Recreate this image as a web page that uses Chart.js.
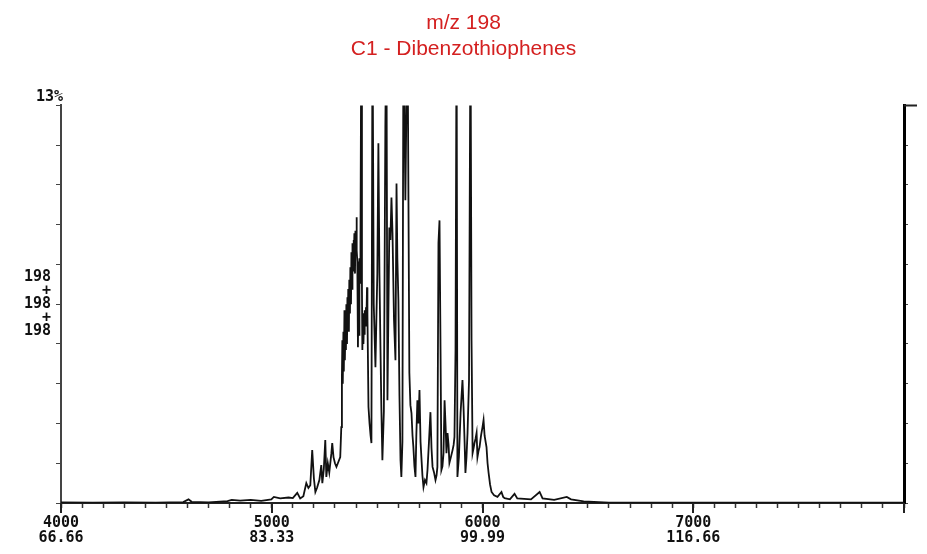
<!DOCTYPE html>
<html>
<head>
<meta charset="utf-8">
<script src="https://cdn.jsdelivr.net/npm/chart.js@4.4.1/dist/chart.umd.min.js"></script>
<style>
  html, body { margin: 0; padding: 0; background: #fff; }
  #wrap { width: 927px; height: 554px; }
</style>
</head>
<body>
<div id="wrap"><canvas id="ticChart"></canvas></div>
<script>
// scan numbers
const scans = [
    4000, 4150, 4300, 4450, 4580, 4605, 4620, 4700, 4790, 4810,
    4850, 4900, 4950, 4998, 5010, 5040, 5080, 5100, 5121, 5135,
    5150, 5164, 5174, 5183, 5192, 5200, 5207, 5215, 5226, 5235,
    5240, 5247, 5254, 5259, 5266, 5273, 5283, 5287, 5293, 5300,
    5307, 5316, 5325, 5330, 5333, 5335, 5337, 5340, 5342, 5345,
    5347, 5350, 5352, 5354, 5357, 5359, 5361, 5363, 5366, 5368,
    5371, 5373, 5376, 5378, 5381, 5383, 5386, 5388, 5390, 5392,
    5395, 5397, 5400, 5402, 5404, 5406, 5409, 5411, 5414, 5416,
    5419, 5421, 5425, 5428, 5430, 5433, 5435, 5438, 5440, 5442,
    5444, 5447, 5449, 5452, 5454,
    5459, 5464, 5469, 5473, 5478, 5484, 5492, 5497, 5501, 5506,
    5511, 5516, 5520, 5525, 5532, 5539, 5544, 5549, 5554, 5558,
    5563, 5568, 5573, 5580, 5587, 5592, 5596, 5601, 5606, 5611,
    5615, 5620, 5625, 5634, 5644, 5653, 5658, 5663, 5668, 5672,
    5677, 5682, 5686, 5691, 5696, 5701, 5706, 5710, 5715, 5720,
    5727, 5734, 5739, 5746, 5753, 5758, 5763, 5770, 5777, 5782,
    5786, 5791, 5796, 5801, 5805, 5810, 5815, 5820, 5825, 5829,
    5834, 5839, 5843, 5850, 5858, 5863, 5867, 5872, 5877, 5881,
    5888, 5896, 5905, 5910, 5915, 5919, 5924, 5929, 5936, 5943,
    5948, 5953, 5958, 5962, 5967, 5972, 5976, 5981, 5986, 5993,
    6000, 6005, 6010, 6019, 6024, 6029, 6036, 6043, 6055, 6071,
    6090, 6098, 6105, 6130, 6152, 6165, 6230, 6271, 6285, 6340,
    6400, 6420, 6480, 6600, 7000, 7500, 8000
];

// relative abundance (%), peaks above 13% run off the top
const abundance = [
    0.02, 0.01, 0.02, 0.01, 0.03, 0.12, 0.04, 0.02, 0.06, 0.10,
    0.08, 0.10, 0.07, 0.12, 0.20, 0.15, 0.18, 0.16, 0.33, 0.15,
    0.22, 0.65, 0.49, 0.58, 1.73, 0.80, 0.36, 0.50, 0.75, 1.24,
    0.65, 1.10, 2.06, 0.85, 1.30, 1.00, 1.63, 1.96, 1.50, 1.30,
    1.18, 1.34, 1.50, 2.48, 4.20, 5.32, 3.90, 5.60, 4.30, 6.30,
    4.67, 6.00, 5.00, 6.50, 5.20, 6.73, 5.80, 7.00, 5.60, 7.30,
    6.20, 7.71, 6.50, 8.20, 7.00, 8.49, 7.60, 8.60, 7.80, 8.82,
    7.50, 8.90, 8.20, 9.34, 8.26, 7.90, 5.09, 7.20, 5.50, 8.00,
    7.20, 8.49, 16.0, 7.00, 5.00, 6.20, 5.20, 6.00, 5.50, 6.30,
    5.80, 6.40, 5.90, 7.05, 6.20,
    3.14, 2.60, 2.20, 1.96, 16.0, 6.50, 4.44, 6.20, 7.51, 11.76,
    7.51, 5.00, 3.14, 1.40, 3.00, 12.28, 16.0, 3.36, 6.50, 9.01,
    8.60, 9.99, 8.82, 6.00, 4.67, 10.45, 8.00, 6.63, 3.50, 1.40,
    0.85, 2.00, 16.0, 9.90, 16.0, 4.25, 3.20, 2.94, 2.20, 1.83,
    1.20, 0.85, 2.20, 3.36, 2.60, 3.69, 2.00, 1.50, 0.90, 0.52,
    0.75, 0.65, 1.08, 2.00, 2.97, 1.80, 1.18, 1.00, 0.75, 0.90,
    1.18, 8.50, 9.24, 4.90, 1.08, 1.20, 1.63, 3.36, 2.50, 1.63,
    2.29, 1.90, 1.31, 1.50, 1.73, 1.90, 2.16, 5.00, 16.0, 0.85,
    1.50, 2.94, 4.02, 3.14, 2.00, 0.98, 1.50, 2.29, 4.00, 16.0,
    5.30, 1.63, 1.80, 1.96, 2.10, 2.29, 1.50, 1.70, 1.83, 2.20,
    2.48, 2.71, 2.20, 1.83, 1.30, 0.98, 0.60, 0.36, 0.25, 0.20,
    0.36, 0.20, 0.16, 0.12, 0.30, 0.15, 0.12, 0.36, 0.15, 0.10,
    0.20, 0.12, 0.05, 0.01, 0.01, 0.01, 0.01
];

// axis labels
const xMajorScans = [4000, 5000, 6000, 7000];
const xMajorTimes = ['66.66', '83.33', '99.99', '116.66'];
const yTicks = [0, 1.3, 2.6, 3.9, 5.2, 6.5, 7.8, 9.1, 10.4, 11.7, 13];
const yMidLabel = ['198', '+', '198', '+', '198'];
const yTopLabel = '13%';
const titleLines = ['m/z 198', 'C1 - Dibenzothiophenes'];

const monoFont = { family: '"DejaVu Sans Mono", monospace', size: 15, weight: 'bold' };

// extra bits: 13% label, longer major ticks, cap on the right axis
const extras = {
    id: 'extras',
    afterDraw(chart) {
        const ctx = chart.ctx;
        const area = chart.chartArea;
        const xs = chart.scales.x;
        ctx.save();
        ctx.fillStyle = '#111';
        ctx.font = 'bold 15px "DejaVu Sans Mono", monospace';
        ctx.textAlign = 'right';
        ctx.textBaseline = 'bottom';
        ctx.fillText(yTopLabel, area.left + 2, area.top - 1);

        ctx.strokeStyle = '#222';
        ctx.lineWidth = 2;
        ctx.beginPath();
        xs.ticks.forEach(t => {
            if (t.value % 1000 === 0) {
                const px = Math.round(xs.getPixelForValue(t.value));
                ctx.moveTo(px, area.bottom);
                ctx.lineTo(px, area.bottom + 10);
            }
        });
        ctx.moveTo(area.right, area.top);
        ctx.lineTo(area.right + 13, area.top);
        ctx.stroke();
        ctx.restore();
    }
};

const ctx = document.getElementById('ticChart').getContext('2d');
const ticChart = new Chart(ctx, {
    type: 'line',
    data: {
        datasets: [{
            data: scans.map((s, i) => ({ x: s, y: abundance[i] })),
            borderColor: '#111',
            borderWidth: 1.8,
            pointRadius: 0,
            tension: 0,
            clip: 0
        }]
    },
    options: {
        responsive: true,
        maintainAspectRatio: false,
        animation: false,
        layout: { padding: 0 },
        plugins: {
            legend: { display: false },
            tooltip: { enabled: false },
            title: {
                display: true,
                text: titleLines,
                color: '#d42020',
                font: { family: '"Liberation Sans", Arial, sans-serif', size: 21, weight: 'normal', lineHeight: 1.2 },
                padding: { top: 11, bottom: 44 }
            }
        },
        scales: {
            x: {
                type: 'linear',
                min: 4000,
                max: 8000,
                afterFit: s => { s.height = 51; },
                border: { color: '#222', width: 2 },
                grid: { drawOnChartArea: false, drawTicks: true, tickLength: 5, color: '#333', tickWidth: 1.5 },
                ticks: {
                    stepSize: 100,
                    autoSkip: false,
                    maxRotation: 0,
                    padding: 8,
                    color: '#111',
                    font: { ...monoFont, lineHeight: 1.0 },
                    callback: v => {
                        const i = xMajorScans.indexOf(v);
                        return i >= 0 ? [String(v), xMajorTimes[i]] : '';
                    }
                }
            },
            y: {
                min: 0,
                max: 13,
                afterBuildTicks: axis => { axis.ticks = yTicks.map(v => ({ value: v })); },
                afterFit: s => { s.width = 61; },
                border: { color: '#444', width: 2 },
                grid: { drawOnChartArea: false, drawTicks: true, tickLength: 5, color: '#444' },
                ticks: {
                    autoSkip: false,
                    padding: 5,
                    color: '#111',
                    font: { ...monoFont, lineHeight: 0.9 },
                    callback: v => (v === 6.5 ? yMidLabel : '')
                }
            },
            y2: {
                position: 'right',
                min: 0,
                max: 13,
                afterBuildTicks: axis => { axis.ticks = yTicks.map(v => ({ value: v })); },
                afterFit: s => { s.width = 23; },
                border: { color: '#000', width: 3 },
                grid: { drawOnChartArea: false, drawTicks: true, tickLength: 4, color: '#444' },
                ticks: { autoSkip: false, callback: () => '' }
            }
        }
    },
    plugins: [extras]
});
</script>
</body>
</html>
